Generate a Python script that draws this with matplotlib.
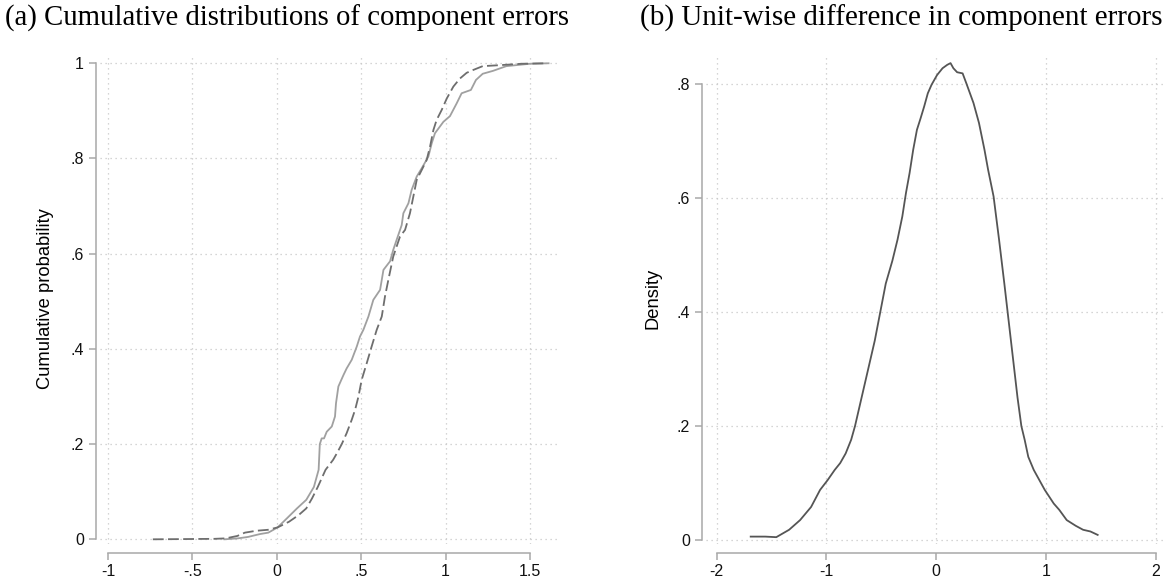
import matplotlib
matplotlib.use("Agg")
import matplotlib.pyplot as plt
import numpy as np

# (a) cumulative distributions
cdf_solid_x = [-0.31, -0.23, -0.17, -0.10, -0.05, 0.005, 0.06, 0.12, 0.175, 0.22, 0.248, 0.255,
               0.266, 0.28, 0.296, 0.326, 0.345, 0.351, 0.365, 0.395, 0.414, 0.444, 0.474,
               0.493, 0.513, 0.543, 0.572, 0.612, 0.632, 0.671, 0.69, 0.71, 0.74, 0.75, 0.78,
               0.799, 0.829, 0.858, 0.898, 0.918, 0.937, 0.987, 1.026, 1.066, 1.095, 1.15,
               1.18, 1.22, 1.28, 1.36, 1.5, 1.61]
cdf_solid_y = [0.0, 0.002, 0.005, 0.011, 0.014, 0.025, 0.044, 0.065, 0.083, 0.11, 0.146, 0.2,
               0.212, 0.212, 0.226, 0.237, 0.258, 0.286, 0.321, 0.345, 0.359, 0.377, 0.405,
               0.426, 0.44, 0.468, 0.503, 0.524, 0.566, 0.584, 0.608, 0.629, 0.66, 0.685, 0.706,
               0.734, 0.762, 0.779, 0.804, 0.832, 0.853, 0.877, 0.889, 0.916, 0.937, 0.944,
               0.965, 0.978, 0.984, 0.994, 0.999, 1.0]

cdf_dash_x = [-0.734, -0.37, -0.302, -0.234, -0.189, -0.12, -0.052, 0.005, 0.073, 0.13, 0.175,
              0.209, 0.243, 0.289, 0.334, 0.355, 0.385, 0.414, 0.444, 0.464, 0.484, 0.503,
              0.533, 0.562, 0.592, 0.622, 0.641, 0.661, 0.69, 0.73, 0.76, 0.789, 0.809, 0.829,
              0.859, 0.888, 0.908, 0.928, 0.947, 0.977, 1.007, 1.046, 1.085, 1.125, 1.164,
              1.22, 1.32, 1.45, 1.6]
cdf_dash_y = [0.0, 0.001, 0.002, 0.007, 0.014, 0.018, 0.02, 0.025, 0.037, 0.051, 0.065, 0.086,
              0.11, 0.146, 0.167, 0.18, 0.2, 0.223, 0.251, 0.272, 0.3, 0.335, 0.37, 0.405,
              0.44, 0.468, 0.51, 0.545, 0.594, 0.636, 0.65, 0.685, 0.72, 0.755, 0.776, 0.797,
              0.825, 0.86, 0.881, 0.902, 0.926, 0.951, 0.968, 0.98, 0.986, 0.994, 0.996,
              0.999, 1.0]

# (b) density of unit-wise difference
dens_x = [-1.69, -1.557, -1.457, -1.34, -1.24, -1.14, -1.058, -0.99, -0.925, -0.875, -0.825,
          -0.775, -0.74, -0.68, -0.62, -0.56, -0.51, -0.46, -0.40, -0.353, -0.309, -0.276,
          -0.243, -0.21, -0.176, -0.143, -0.11, -0.077, -0.043, 0.007, 0.057, 0.1, 0.13,
          0.156, 0.19, 0.24, 0.273, 0.339, 0.389, 0.439, 0.472, 0.522, 0.572, 0.62, 0.68,
          0.74, 0.775, 0.805, 0.838, 0.888, 0.988, 1.07, 1.12, 1.188, 1.27, 1.337, 1.404, 1.47]
dens_y = [0.006, 0.006, 0.005, 0.018, 0.035, 0.058, 0.088, 0.105, 0.123, 0.135, 0.152,
          0.176, 0.2, 0.25, 0.3, 0.35, 0.4, 0.45, 0.49, 0.527, 0.568, 0.609,
          0.644, 0.685, 0.72, 0.74, 0.761, 0.784, 0.799, 0.816, 0.828, 0.834, 0.837,
          0.828, 0.821, 0.819, 0.802, 0.767, 0.732, 0.685, 0.65, 0.603, 0.527, 0.45, 0.35,
          0.25, 0.2, 0.176, 0.146, 0.123, 0.088, 0.064, 0.053, 0.035, 0.025, 0.018, 0.015, 0.009]

xticks_a = [-1, -0.5, 0, 0.5, 1, 1.5]
xlabels_a = ["-1", "-.5", "0", ".5", "1", "1.5"]
yticks_a = [0, 0.2, 0.4, 0.6, 0.8, 1]
ylabels_a = ["0", ".2", ".4", ".6", ".8", "1"]
xticks_b = [-2, -1, 0, 1, 2]
xlabels_b = ["-2", "-1", "0", "1", "2"]
yticks_b = [0, 0.2, 0.4, 0.6, 0.8]
ylabels_b = ["0", ".2", ".4", ".6", ".8"]

W, H = 1174, 586
plt.rcParams['font.family'] = ['Liberation Sans', 'DejaVu Sans']
fig = plt.figure(figsize=(W / 100, H / 100), dpi=100)


def px_axes(x0, x1, y0, y1):
    # pixel box (top-left origin) -> figure fraction
    return fig.add_axes([x0 / W, 1 - y1 / H, (x1 - x0) / W, (y1 - y0) / H])


def style(ax, xt, xl, yt, yl):
    for s in ["top", "right"]:
        ax.spines[s].set_visible(False)
    ax.spines["left"].set_position(("outward", 3))
    ax.spines["bottom"].set_position(("outward", 6.5))
    ax.spines["left"].set_bounds(yt[0], yt[-1])
    ax.spines["bottom"].set_bounds(xt[0], xt[-1])
    for s in ["left", "bottom"]:
        ax.spines[s].set_color("#a8a8a8")
        ax.spines[s].set_linewidth(1.1)
    ax.set_xticks(xt)
    ax.set_xticklabels(xl)
    ax.set_yticks(yt)
    ax.set_yticklabels(yl)
    ax.tick_params(length=5, width=1.1, color="#a8a8a8", labelsize=11.5,
                   labelcolor="#111111", pad=3.5)
    ax.grid(True, linestyle=(0, (1, 3)), color="#c8c8c8", linewidth=0.9)
    ax.set_axisbelow(True)


ax1 = px_axes(100, 557, 54, 543.5)
ax1.plot(cdf_solid_x, cdf_solid_y, color="#a0a0a0", lw=1.3)
ax1.plot(cdf_dash_x, cdf_dash_y, color="#6e6e6e", lw=1.3, linestyle=(0, (6, 2.4)))
ax1.set_xlim(-1.047, 1.66)
ax1.set_ylim(-0.0088, 1.0195)
style(ax1, xticks_a, xlabels_a, yticks_a, ylabels_a)
ax1.set_ylabel("Cumulative probability", fontsize=13.2, labelpad=12)

ax2 = px_axes(706, 1164, 54, 543.5)
ax2.plot(dens_x, dens_y, color="#555555", lw=1.3)
ax2.set_xlim(-2.097, 2.074)
ax2.set_ylim(-0.0061, 0.853)
style(ax2, xticks_b, xlabels_b, yticks_b, ylabels_b)
ax2.set_ylabel("Density", fontsize=13.2, labelpad=11)

fig.text(287 / W, 1 - 18 / H, "(a) Cumulative distributions of component errors",
         family="Liberation Serif", fontsize=20.7, ha="center", va="center")
fig.text(901.5 / W, 1 - 18 / H, "(b) Unit-wise difference in component errors",
         family="Liberation Serif", fontsize=21, ha="center", va="center")

fig.savefig("out.png", dpi=100)
